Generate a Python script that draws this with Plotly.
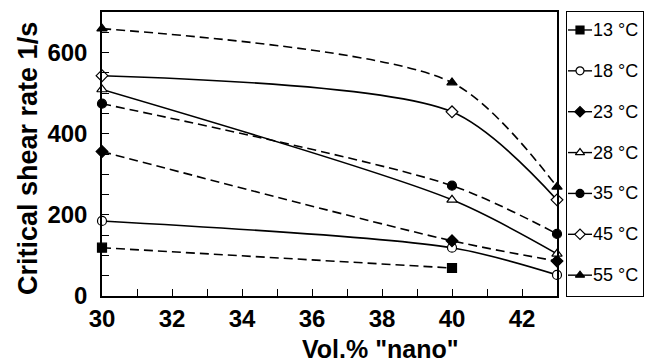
import plotly.graph_objects as go

vol_x = [30, 40, 43]
series_names = ["13 °C", "18 °C", "23 °C", "28 °C", "35 °C", "45 °C", "55 °C"]
rate_13 = [119, 69]
rate_18 = [185, 119, 52]
rate_23 = [356, 136, 86]
rate_28 = [509, 237, 104]
rate_35 = [474, 272, 153]
rate_45 = [543, 454, 237]
rate_55 = [659, 526, 269]

x_ticks = [30, 32, 34, 36, 38, 40, 42]
y_ticks = [0, 200, 400, 600]

styles = [
    (rate_13, "square", "black", "dash"),
    (rate_18, "circle", "white", "solid"),
    (rate_23, "diamond", "black", "dash"),
    (rate_28, "triangle-up", "white", "solid"),
    (rate_35, "circle", "black", "dash"),
    (rate_45, "diamond", "white", "solid"),
    (rate_55, "triangle-up", "black", "dash"),
]

W, H = 650, 363
ML, MR, MT, MB = 102, 6, 12, 67
PW = W - ML - MR
PH = H - MT - MB
main_right = (557 - ML) / PW
leg_left = (567 - ML) / PW
leg_right = (643 - ML) / PW

fig = go.Figure()
for i, (name, (vals, sym, fill, dash)) in enumerate(zip(series_names, styles)):
    dash_style = "9px,5px" if dash == "dash" else "solid"
    mk = dict(symbol=sym, size=9, color=fill, line=dict(color="black", width=1.2))
    fig.add_trace(go.Scatter(
        x=vol_x[:len(vals)], y=vals, name=name,
        mode="lines+markers",
        line=dict(color="black", width=1.6, dash=dash_style, shape="spline", smoothing=0.8),
        marker=mk, cliponaxis=False, showlegend=False,
    ))
    # legend sample on its own axes
    fig.add_trace(go.Scatter(
        x=[1, 25], y=[i, i], mode="lines", xaxis="x2", yaxis="y2",
        line=dict(color="black", width=1.4), showlegend=False, hoverinfo="skip",
    ))
    fig.add_trace(go.Scatter(
        x=[13], y=[i], mode="markers", xaxis="x2", yaxis="y2",
        marker=dict(symbol=sym, size=8, color=fill, line=dict(color="black", width=1.2)),
        showlegend=False, hoverinfo="skip",
    ))
    fig.add_annotation(x=25, y=i, xref="x2", yref="y2", text=name, showarrow=False,
                       xanchor="left", yanchor="middle", font=dict(size=18, color="black"),
                       borderpad=0)

tick_common = dict(ticks="inside", ticklen=7, tickcolor="black", tickwidth=1.2)

fig.update_layout(
    width=W, height=H,
    margin=dict(l=ML, r=MR, t=MT, b=MB, autoexpand=False),
    plot_bgcolor="white", paper_bgcolor="white",
    font=dict(family="Liberation Sans, Arial", color="black"),
    showlegend=False,
    xaxis=dict(
        domain=[0, main_right], anchor="y",
        range=[30, 43], tickmode="array", tickvals=x_ticks, ticktext=[str(v) for v in x_ticks],
        showline=True, linecolor="black", linewidth=1.5, mirror=True,
        minor=dict(dtick=1, tick0=30, **tick_common),
        showgrid=False, zeroline=False, ticklabelstandoff=0,
        tickfont=dict(size=24, weight="bold"), automargin=False, **tick_common,
    ),
    yaxis=dict(
        domain=[0, 1], anchor="x",
        range=[0, 700], tickmode="array", tickvals=y_ticks, ticktext=[str(v) for v in y_ticks],
        showline=True, linecolor="black", linewidth=1.5, mirror=True,
        minor=dict(dtick=50, tick0=0, **tick_common),
        showgrid=False, zeroline=False, ticklabelstandoff=8,
        tickfont=dict(size=24, weight="bold"), automargin=False, **tick_common,
    ),
    xaxis2=dict(domain=[leg_left, leg_right], range=[0, 76], anchor="y2",
                showline=True, linecolor="black", linewidth=1.3, mirror=True,
                showticklabels=False, ticks="", showgrid=False, zeroline=False,
                fixedrange=True, automargin=False),
    yaxis2=dict(domain=[0, 1.0], range=[6.51, -0.44], anchor="x2",
                showline=True, linecolor="black", linewidth=1.3, mirror=True,
                showticklabels=False, ticks="", showgrid=False, zeroline=False,
                fixedrange=True, automargin=False),
)
fig.add_annotation(x=(380 - ML) / PW, y=-(349 - (H - MB)) / PH, xref="paper", yref="paper",
                   text='Vol.% "nano"', showarrow=False, xanchor="center", yanchor="middle",
                   font=dict(size=25, weight="bold", color="black"), borderpad=0)
fig.add_annotation(x=-(ML - 28) / PW, y=1 - (159 - MT) / PH, xref="paper", yref="paper",
                   text="Critical shear rate 1/s", showarrow=False, textangle=-90,
                   xanchor="center", yanchor="middle",
                   font=dict(size=27, weight="bold", color="black"))

fig.write_html("out.html", config={"displayModeBar": False},
               post_script="document.body.style.margin='0';")
